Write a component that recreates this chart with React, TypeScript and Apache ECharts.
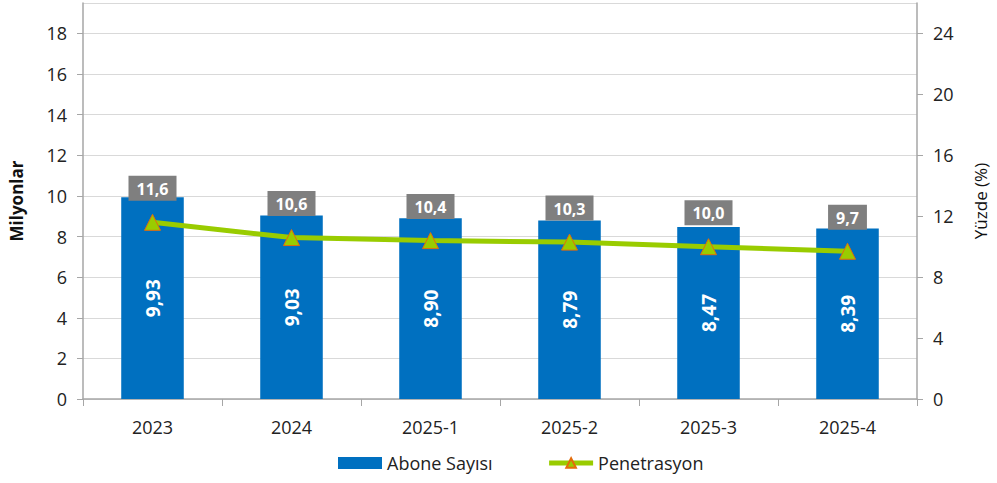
import React, { useEffect, useRef } from "react";
import * as echarts from "echarts";

const categories = ["2023", "2024", "2025-1", "2025-2", "2025-3", "2025-4"];
const aboneSayisi = [9.93, 9.03, 8.9, 8.79, 8.47, 8.39];
const penetrasyon = [11.6, 10.6, 10.4, 10.3, 10.0, 9.7];
const leftTicks = { min: 0, max: 19.5, interval: 2 };
const rightTicks = { min: 0, max: 26, interval: 4 };

const FONT = "'Open Sans', 'Noto Sans', sans-serif";
const fmt = (v: number, d: number) => v.toFixed(d).replace(".", ",");

export default function App() {
  const ref = useRef<HTMLDivElement>(null);
  useEffect(() => {
    if (!ref.current) return;
    const chart = echarts.init(ref.current, null, { renderer: "svg" });
    chart.setOption({
      animation: false,
      textStyle: { fontFamily: FONT },
      grid: { left: 82, right: 77, top: 3, bottom: 84, containLabel: false },
      legend: {
        bottom: 6,
        left: 333,
        itemGap: 54,
        itemWidth: 44,
        itemHeight: 12,
        textStyle: { fontFamily: FONT, fontSize: 18, color: "#222" },
        data: [
          { name: "Abone Sayısı", icon: "rect" },
          { name: "Penetrasyon", lineStyle: { width: 5, color: "#99CC00" } },
        ],
      },
      xAxis: {
        type: "category",
        data: categories,
        axisLine: { lineStyle: { color: "#a6a6a6", width: 1.5 } },
        axisTick: { show: true, length: 7, inside: false, lineStyle: { color: "#a6a6a6" } },
        axisLabel: { fontFamily: FONT, fontSize: 18, color: "#222", margin: 19 },
      },
      yAxis: [
        {
          type: "value",
          min: leftTicks.min,
          max: leftTicks.max,
          interval: leftTicks.interval,
          name: "Milyonlar",
          nameLocation: "middle",
          nameGap: 58,
          nameTextStyle: { fontFamily: FONT, fontSize: 17, fontWeight: "bold", color: "#111" },
          axisLine: { show: true, lineStyle: { color: "#a6a6a6", width: 1.5 } },
          axisTick: { show: true, length: 6, lineStyle: { color: "#a6a6a6" } },
          axisLabel: { fontFamily: FONT, fontSize: 18, color: "#222", margin: 16, showMaxLabel: false },
          splitLine: { show: true, lineStyle: { color: "#d9d9d9", width: 1.2 } },
        },
        {
          type: "value",
          min: rightTicks.min,
          max: rightTicks.max,
          interval: rightTicks.interval,
          name: "Yüzde (%)",
          nameLocation: "middle",
          nameGap: 55,
          nameRotate: 90,
          nameTextStyle: { fontFamily: FONT, fontSize: 17, color: "#111" },
          axisLine: { show: true, lineStyle: { color: "#a6a6a6", width: 1.5 } },
          axisTick: { show: true, length: 6, lineStyle: { color: "#a6a6a6" } },
          axisLabel: { fontFamily: FONT, fontSize: 18, color: "#222", margin: 16, showMaxLabel: false },
          splitLine: { show: false },
        },
      ],
      series: [
        {
          name: "Abone Sayısı",
          type: "bar",
          yAxisIndex: 0,
          data: aboneSayisi,
          barWidth: "45%",
          itemStyle: { color: "#0070C0" },
          label: {
            show: true,
            position: "inside",
            rotate: 90,
            color: "#fff",
            fontFamily: FONT,
            fontSize: 19,
            fontWeight: "bold",
            formatter: (p: any) => fmt(p.value, 2),
          },
          z: 2,
        },
        {
          name: "Penetrasyon",
          type: "line",
          yAxisIndex: 1,
          data: penetrasyon,
          symbol: "triangle",
          symbolSize: 16,
          lineStyle: { color: "#99CC00", width: 5 },
          itemStyle: { color: "#99CC00", borderColor: "#E46C0A", borderWidth: 1 },
          label: {
            show: true,
            position: "top",
            distance: 13,
            color: "#fff",
            backgroundColor: "#7F7F7F",
            padding: [5, 8, 4, 8],
            fontFamily: FONT,
            fontSize: 16,
            fontWeight: "bold",
            formatter: (p: any) => fmt(p.value, 1),
          },
          z: 3,
        },
      ],
    });
    return () => chart.dispose();
  }, []);
  return <div ref={ref} style={{ width: 997, height: 483, position: "absolute", left: 0, top: 0 }} />;
}
